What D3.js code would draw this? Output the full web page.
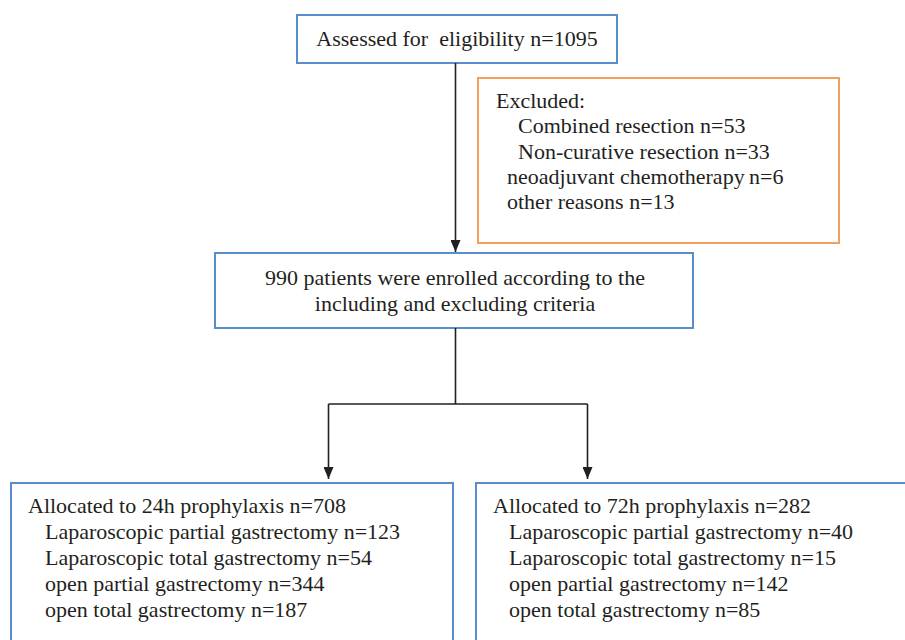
<!DOCTYPE html>
<html>
<head>
<meta charset="utf-8">
<script src="https://cdn.jsdelivr.net/npm/d3@7"></script>
<style>
  html, body { margin: 0; padding: 0; background: #fff; }
  svg { display: block; }
</style>
</head>
<body>
<svg id="chart" width="905" height="640"></svg>
<script>
// Flujo de pacientes: cajas y textos
const topLines = ['Assessed for\u00a0 eligibility n=1095'];
const excludedLines = ['Excluded:', 'Combined resection n=53', 'Non-curative resection n=33', 'neoadjuvant chemotherapy\u2009n=6', 'other reasons n=13'];
const excludedIndent = [0, 1, 1, 0.5, 0.5];
const enrolledLines = ['990 patients were enrolled according to the', 'including and excluding criteria'];
const arm24Lines = ['Allocated to 24h prophylaxis n=708', 'Laparoscopic partial gastrectomy n=123', 'Laparoscopic total gastrectomy n=54', 'open partial gastrectomy n=344', 'open total gastrectomy n=187'];
const arm72Lines = ['Allocated to 72h prophylaxis n=282', 'Laparoscopic partial gastrectomy n=40', 'Laparoscopic total gastrectomy n=15', 'open partial gastrectomy n=142', 'open total gastrectomy n=85'];

const BLUE = '#5a8dcc', ORANGE = '#f5a05a', INK = '#231f20';
const FS = 22;

const svg = d3.select('#chart');

const boxes = [
  { x: 297, y: 15, w: 320, h: 48, stroke: BLUE },
  { x: 478, y: 78, w: 361, h: 165, stroke: ORANGE },
  { x: 215, y: 253, w: 478, h: 75, stroke: BLUE },
  { x: 11, y: 483, w: 442, h: 180, stroke: BLUE },
  { x: 476, y: 483, w: 440, h: 180, stroke: BLUE },
];
svg.append('g').selectAll('rect').data(boxes).join('rect')
  .attr('x', b => b.x).attr('y', b => b.y)
  .attr('width', b => b.w).attr('height', b => b.h)
  .attr('fill', 'none').attr('stroke', b => b.stroke).attr('stroke-width', 2);

// flechas (punta dibujada sobre +x, orient=auto la gira)
svg.append('defs').append('marker')
  .attr('id', 'arrow').attr('viewBox', '0 0 12 10')
  .attr('refX', 12).attr('refY', 5)
  .attr('markerWidth', 12).attr('markerHeight', 10)
  .attr('markerUnits', 'userSpaceOnUse').attr('orient', 'auto')
  .append('path').attr('d', 'M0,0 L12,5 L0,10 Z').attr('fill', INK);

const line = d3.line();
const paths = [
  { pts: [[455.5, 63], [455.5, 252]], arrow: true },
  { pts: [[455.5, 328], [455.5, 404]], arrow: false },
  { pts: [[328.5, 404], [587.5, 404]], arrow: false },
  { pts: [[328.5, 404], [328.5, 479]], arrow: true },
  { pts: [[587.5, 404], [587.5, 479]], arrow: true },
];
svg.append('g').selectAll('path').data(paths).join('path')
  .attr('d', p => line(p.pts))
  .attr('fill', 'none').attr('stroke', INK).attr('stroke-width', 1.6)
  .attr('marker-end', p => p.arrow ? 'url(#arrow)' : null);

function textBlock(lines, opts) {
  svg.append('g').selectAll('text').data(lines).join('text')
    .attr('x', (d, i) => opts.x(i))
    .attr('y', (d, i) => opts.y0 + i * opts.dy)
    .attr('text-anchor', opts.anchor || 'start')
    .attr('font-family', 'Liberation Serif')
    .attr('font-size', FS)
    .attr('fill', INK)
    .text(d => d);
}

textBlock(topLines, { x: () => 457, y0: 46, dy: 0, anchor: 'middle' });
textBlock(excludedLines, { x: i => 496 + excludedIndent[i] * 22, y0: 108, dy: 25.3 });
textBlock(enrolledLines, { x: () => 455, y0: 285, dy: 26, anchor: 'middle' });
textBlock(arm24Lines, { x: i => i === 0 ? 28 : 45, y0: 513, dy: 26 });
textBlock(arm72Lines, { x: i => i === 0 ? 493 : 509, y0: 513, dy: 26 });
</script>
</body>
</html>
